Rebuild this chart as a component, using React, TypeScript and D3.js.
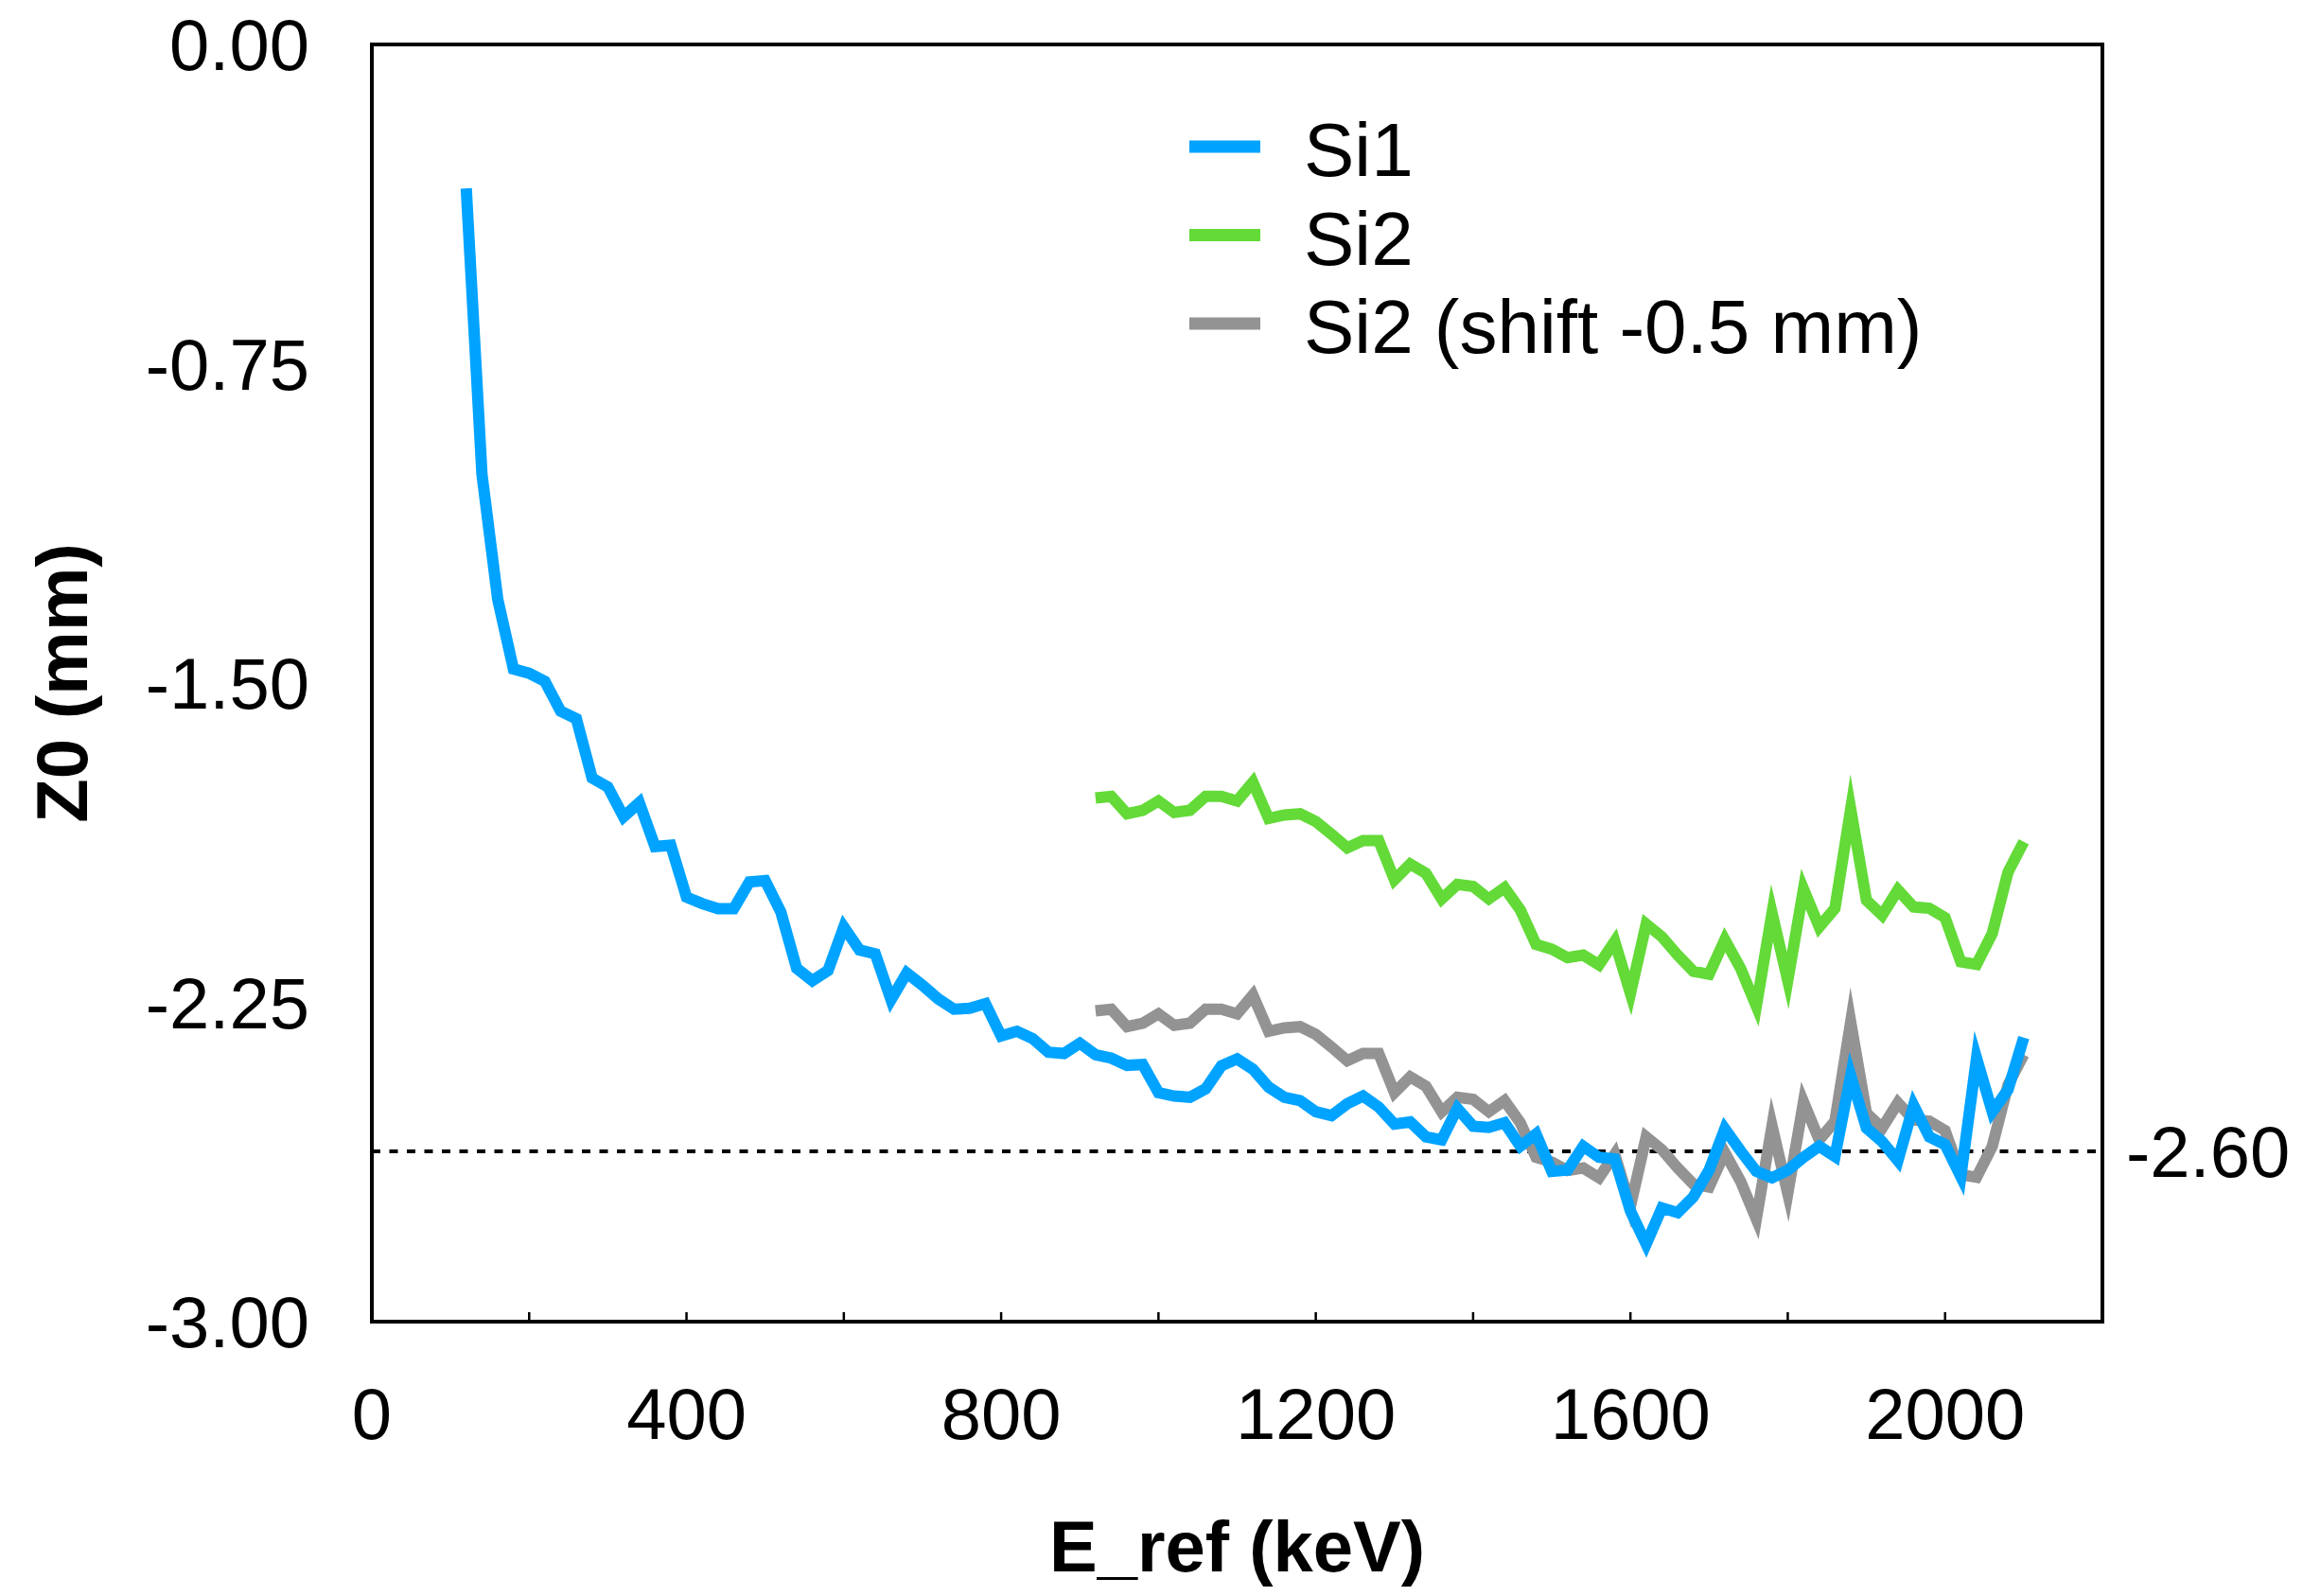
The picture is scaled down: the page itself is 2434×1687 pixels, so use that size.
import React, { useEffect } from "react";
import * as d3 from "d3";

// ---- data ----
const energySi1 = [
  120, 140, 160, 180, 200, 220, 240, 260, 280, 300, 320, 340, 360, 380, 400, 420, 440, 460, 480, 500,
  520, 540, 560, 580, 600, 620, 640, 660, 680, 700, 720, 740, 760, 780, 800, 820, 840, 860, 880, 900,
  920, 940, 960, 980, 1000, 1020, 1040, 1060, 1080, 1100, 1120, 1140, 1160, 1180, 1200, 1220, 1240, 1260, 1280, 1300,
  1320, 1340, 1360, 1380, 1400, 1420, 1440, 1460, 1480, 1500, 1520, 1540, 1560, 1580, 1600, 1620, 1640, 1660, 1680, 1700,
  1720, 1740, 1760, 1780, 1800, 1820, 1840, 1860, 1880, 1900, 1920, 1940, 1960, 1980, 2000, 2020, 2040, 2060, 2080, 2100,
];
const z0Si1 = [
  -0.338, -1.01, -1.303, -1.467, -1.477, -1.496, -1.566, -1.584, -1.723, -1.744,
  -1.814, -1.781, -1.884, -1.881, -2.003, -2.018, -2.03, -2.03, -1.967, -1.964,
  -2.038, -2.17, -2.199, -2.175, -2.073, -2.127, -2.136, -2.244, -2.181, -2.21,
  -2.242, -2.266, -2.264, -2.253, -2.329, -2.318, -2.335, -2.367, -2.37, -2.346,
  -2.373, -2.381, -2.398, -2.396, -2.462, -2.47, -2.473, -2.453, -2.399, -2.383,
  -2.407, -2.449, -2.473, -2.481, -2.507, -2.516, -2.488, -2.47, -2.496, -2.536,
  -2.531, -2.566, -2.573, -2.499, -2.541, -2.544, -2.533, -2.588, -2.559, -2.647,
  -2.644, -2.588, -2.614, -2.618, -2.74, -2.818, -2.733, -2.744, -2.707, -2.644,
  -2.547, -2.599, -2.647, -2.662, -2.644, -2.614, -2.588, -2.612, -2.422, -2.545,
  -2.577, -2.622, -2.492, -2.566, -2.584, -2.659, -2.381, -2.507, -2.455, -2.333,
];
const energySi2 = [
  920, 940, 960, 980, 1000, 1020, 1040, 1060, 1080, 1100, 1120, 1140, 1160, 1180, 1200, 1220, 1240, 1260, 1280, 1300,
  1320, 1340, 1360, 1380, 1400, 1420, 1440, 1460, 1480, 1500, 1520, 1540, 1560, 1580, 1600, 1620, 1640, 1660, 1680, 1700,
  1720, 1740, 1760, 1780, 1800, 1820, 1840, 1860, 1880, 1900, 1920, 1940, 1960, 1980, 2000, 2020, 2040, 2060, 2080, 2100,
];
const z0Si2 = [
  -1.77, -1.766, -1.807, -1.799, -1.777, -1.804, -1.799, -1.766, -1.766, -1.777,
  -1.733, -1.818, -1.81, -1.807, -1.825, -1.855, -1.887, -1.87, -1.87, -1.962,
  -1.925, -1.947, -2.007, -1.973, -1.978, -2.007, -1.981, -2.033, -2.114, -2.125,
  -2.145, -2.139, -2.162, -2.107, -2.229, -2.066, -2.096, -2.139, -2.177, -2.184,
  -2.103, -2.17, -2.259, -2.04, -2.199, -1.984, -2.073, -2.029, -1.796, -2.01,
  -2.045, -1.986, -2.026, -2.029, -2.051, -2.155, -2.161, -2.088, -1.944, -1.873,
];
const SHIFT = -0.5; // "Si2 (shift -0.5 mm)"
const refLevel = -2.6;

const xTicksMajor = [0, 400, 800, 1200, 1600, 2000];
const xTicksMinor = [200, 400, 600, 800, 1000, 1200, 1400, 1600, 1800, 2000];
const yTickValues = [0, -0.75, -1.5, -2.25, -3.0];

const seriesNames = ["Si1", "Si2", "Si2 (shift -0.5 mm)"];
const seriesColors = ["#00A3FF", "#63DA38", "#939393"];

// ---- layout ----
const W = 2434;
const H = 1687;
const L = 393;
const R = 2222;
const T = 47;
const B = 1397;
const FONT = "'Liberation Sans', Arial, Helvetica, sans-serif";

export default function App() {
  useEffect(() => {
    document.body.style.margin = "0";
  }, []);

  const x = d3.scaleLinear().domain([0, 2200]).range([L, R]);
  const y = d3.scaleLinear().domain([-3, 0]).range([B, T]);

  const line = d3
    .line<[number, number]>()
    .x((d) => x(d[0]))
    .y((d) => y(d[1]));

  const si1: [number, number][] = energySi1.map((e, i) => [e, z0Si1[i]]);
  const si2: [number, number][] = energySi2.map((e, i) => [e, z0Si2[i]]);
  const si2s: [number, number][] = energySi2.map((e, i) => [e, z0Si2[i] + SHIFT]);

  const lw = 12;

  return (
    <svg
      width={W}
      height={H}
      style={{ position: "absolute", left: 0, top: 0, background: "#fff" }}
      fontFamily={FONT}
    >
      <rect x={0} y={0} width={W} height={H} fill="#fff" />

      {/* reference dashed line */}
      <line
        x1={L}
        x2={R}
        y1={y(refLevel)}
        y2={y(refLevel)}
        stroke="#000"
        strokeWidth={4}
        strokeDasharray="9 9.5"
      />

      {/* series */}
      <path d={line(si2s) || ""} fill="none" stroke={seriesColors[2]} strokeWidth={lw} strokeLinejoin="miter" strokeMiterlimit={10} />
      <path d={line(si2) || ""} fill="none" stroke={seriesColors[1]} strokeWidth={lw} strokeLinejoin="miter" strokeMiterlimit={10} />
      <path d={line(si1) || ""} fill="none" stroke={seriesColors[0]} strokeWidth={lw} strokeLinejoin="miter" strokeMiterlimit={10} />

      {/* frame */}
      <rect x={L} y={T} width={R - L} height={B - T} fill="none" stroke="#000" strokeWidth={4} />

      {/* x ticks (inward) */}
      {xTicksMinor.map((t) => (
        <line key={"xt" + t} x1={x(t)} x2={x(t)} y1={B} y2={B - 10} stroke="#000" strokeWidth={2.5} />
      ))}

      {/* x tick labels */}
      {xTicksMajor.map((t) => (
        <text key={"xl" + t} x={x(t)} y={1521} fontSize={76} textAnchor="middle" fill="#000">
          {String(t)}
        </text>
      ))}

      {/* y tick labels */}
      {yTickValues.map((t) => (
        <text key={"yl" + t} x={327} y={y(t) + 27} fontSize={76} textAnchor="end" fill="#000">
          {t.toFixed(2)}
        </text>
      ))}

      {/* right reference label */}
      <text x={2247} y={y(refLevel) + 27} fontSize={76} textAnchor="start" fill="#000">
        {refLevel.toFixed(2)}
      </text>

      {/* axis titles */}
      <text x={(L + R) / 2} y={1661} fontSize={76} fontWeight="bold" textAnchor="middle" fill="#000">
        E_ref (keV)
      </text>
      <text
        transform={`translate(92, ${(T + B) / 2}) rotate(-90)`}
        fontSize={76}
        fontWeight="bold"
        textAnchor="middle"
        fill="#000"
      >
        Z0 (mm)
      </text>

      {/* legend */}
      {seriesNames.map((name, i) => {
        const cy = 155 + i * 93.5;
        return (
          <g key={name}>
            <line x1={1257} x2={1332} y1={cy} y2={cy} stroke={seriesColors[i]} strokeWidth={13} />
            <text x={1378} y={cy + 31} fontSize={80} fill="#000">
              {name}
            </text>
          </g>
        );
      })}
    </svg>
  );
}
